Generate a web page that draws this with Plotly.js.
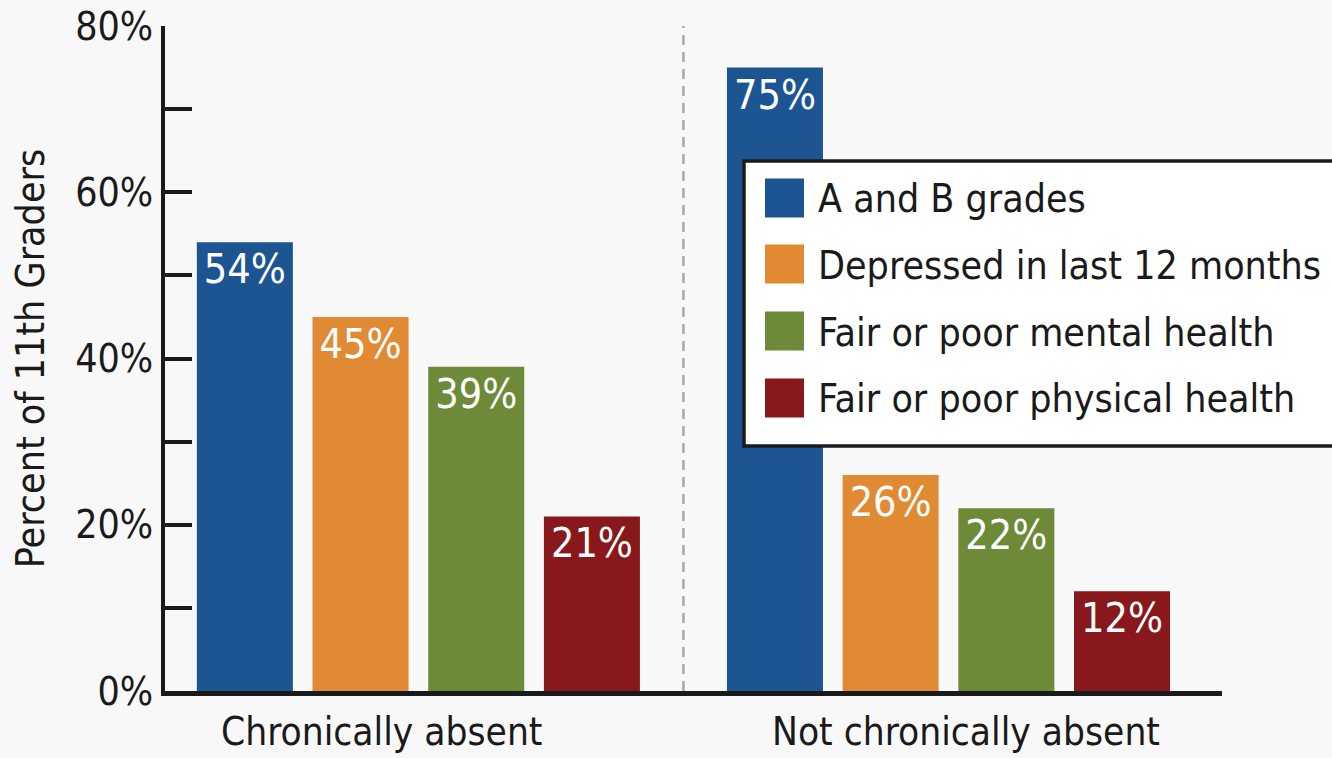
<!DOCTYPE html>
<html>
<head>
<meta charset="utf-8">
<script src="https://cdn.plot.ly/plotly-3.0.1.min.js"></script>
<style>
  html, body { margin: 0; padding: 0; background: #f8f8f8; }
  #chart { width: 1332px; height: 758px; }
</style>
</head>
<body>
<div id="chart"></div>
<script>
// ---- data ----
const categories = ["Chronically absent", "Not chronically absent"];
const seriesNames = ["A and B grades", "Depressed in last 12 months", "Fair or poor mental health", "Fair or poor physical health"];
const seriesColors = ["#1c5592", "#e08b34", "#6d8a39", "#88181b"];
const gradesAB = [54, 75];
const depressed = [45, 26];
const mentalHealth = [39, 22];
const physicalHealth = [21, 12];
const yTickVals = [0, 10, 20, 30, 40, 50, 60, 70, 80];
const yTickText = ["0%", "", "20%", "", "40%", "", "60%", "", "80%"];
const yTitle = "Percent of 11th Graders";

const seriesValues = [gradesAB, depressed, mentalHealth, physicalHealth];

const FONT = '"Liberation Sans Narrow", "Arial Narrow", "DejaVu Sans Condensed", sans-serif';
const W = 1332, H = 758;
const M = { l: 165, r: 110, t: 26, b: 67 };
const plotW = W - M.l - M.r, plotH = H - M.t - M.b;
const px2x = (px) => (px - M.l) / plotW;
const px2y = (py) => (H - M.b - py) / plotH;

const traces = seriesNames.map((name, i) => ({
  type: 'bar',
  name: name,
  x: categories,
  y: seriesValues[i],
  marker: { color: seriesColors[i], line: { width: 0 } },
  texttemplate: '%{y}%',
  textposition: 'inside',
  insidetextanchor: 'end',
  constraintext: 'none',
  textfont: { family: FONT, size: 41, color: '#ffffff' },
  hoverinfo: 'skip',
  showlegend: false
}));

// manual legend (box + swatches + labels)
const shapes = [];
const annotations = [];
shapes.push({
  type: 'line', xref: 'x', yref: 'y', x0: 0.5, x1: 0.5, y0: 0, y1: 80,
  line: { color: '#a8a8a8', width: 2.5, dash: '10px,7px' }, layer: 'below'
});
shapes.push({
  type: 'rect', xref: 'paper', yref: 'paper',
  x0: px2x(744), x1: px2x(1345), y0: px2y(446), y1: px2y(161),
  fillcolor: '#ffffff', line: { color: '#1a1a1a', width: 3.5 }, layer: 'above'
});
const rowCenters = [198, 264, 331, 398];
seriesNames.forEach((name, i) => {
  const cy = rowCenters[i];
  shapes.push({
    type: 'rect', xref: 'paper', yref: 'paper',
    x0: px2x(765), x1: px2x(804), y0: px2y(cy + 19.5), y1: px2y(cy - 19.5),
    fillcolor: seriesColors[i], line: { width: 0 }, layer: 'above'
  });
  annotations.push({
    xref: 'paper', yref: 'paper', x: px2x(816), y: px2y(cy + 1),
    xanchor: 'left', yanchor: 'middle', showarrow: false,
    text: name, font: { family: FONT, size: 39, color: '#1a1a1a' }
  });
});
// category labels
const catShift = [-37, 18];
categories.forEach((c, i) => {
  annotations.push({
    xref: 'x', yref: 'paper', x: c, y: 0, yshift: -16, xshift: catShift[i],
    xanchor: 'center', yanchor: 'top', showarrow: false,
    text: c, font: { family: FONT, size: 38.5, color: '#1a1a1a' }
  });
});

const layout = {
  width: W, height: H,
  margin: M,
  paper_bgcolor: '#f8f8f8',
  plot_bgcolor: '#f8f8f8',
  barmode: 'group',
  bargap: 0.127,
  bargroupgap: 0.17,
  showlegend: false,
  font: { family: FONT, color: '#1a1a1a' },
  xaxis: {
    type: 'category',
    range: [-0.478, 1.516],
    showline: true, linecolor: '#1a1a1a', linewidth: 5,
    showticklabels: false, ticks: '', showgrid: false, zeroline: false,
    fixedrange: true
  },
  yaxis: {
    range: [0, 80],
    showline: true, linecolor: '#1a1a1a', linewidth: 4,
    ticks: 'inside', ticklen: 27, tickwidth: 4, tickcolor: '#1a1a1a',
    tickvals: yTickVals, ticktext: yTickText,
    tickfont: { family: FONT, size: 39, color: '#1a1a1a' },
    ticklabelstandoff: 0,
    showgrid: false, zeroline: false, fixedrange: true,
    title: { text: yTitle, font: { family: FONT, size: 39, color: '#1a1a1a' }, standoff: 20 }
  },
  shapes: shapes,
  annotations: annotations
};

Plotly.newPlot('chart', traces, layout, { staticPlot: true, displayModeBar: false });
</script>
</body>
</html>
